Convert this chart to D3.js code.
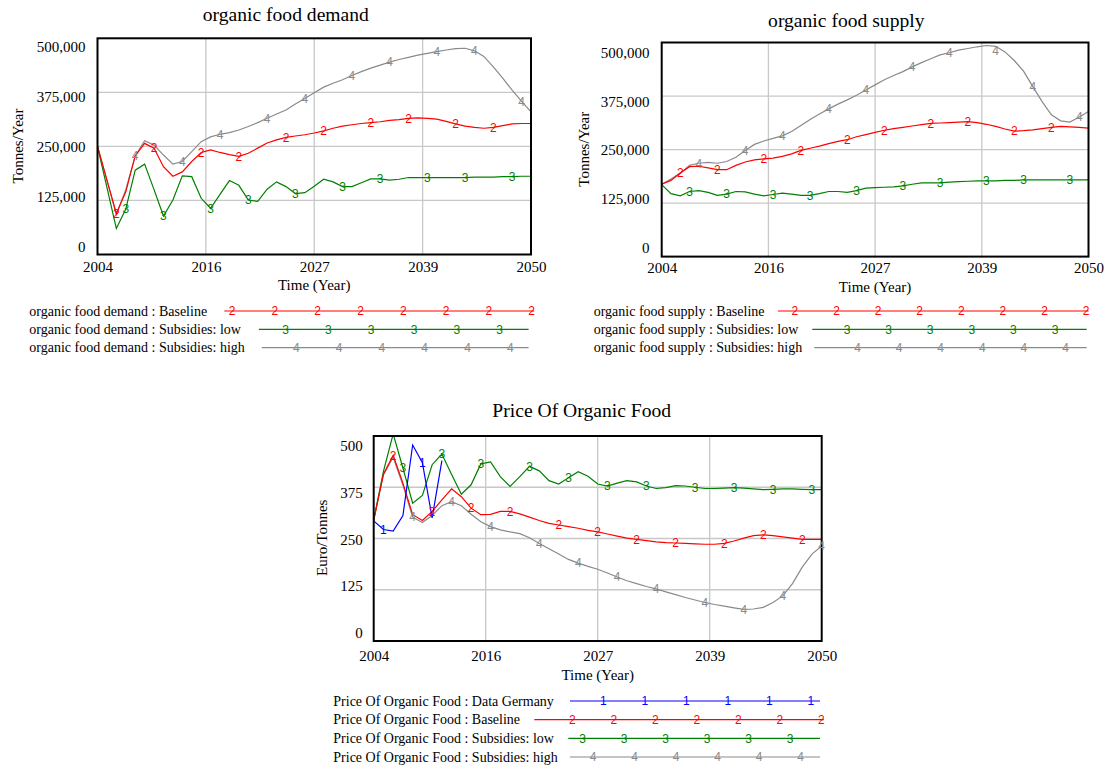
<!DOCTYPE html>
<html><head><meta charset="utf-8">
<script src="https://cdn.jsdelivr.net/npm/d3@7"></script>
<style>body{margin:0;background:#fff} svg{display:block}</style>
</head><body><svg id="c" width="1104" height="767"></svg>
<script>
// ---------- categories ----------
const years = [2004,2005,2006,2007,2008,2009,2010,2011,2012,2013,2014,2015,2016,2017,2018,2019,2020,
  2021,2022,2023,2024,2025,2026,2027,2028,2029,2030,2031,2032,2033,2034,2035,2036,2037,2038,2039,2040,
  2041,2042,2043,2044,2045,2046,2047,2048,2049,2050];
const dataGermanyYears = [2004,2005,2006,2007,2008,2009,2010,2011];

// ---------- series values ----------
const demandBaseline = [250000,172000,95000,145000,228000,257000,246000,203000,181000,191000,215000,236000,
  242000,236000,231000,227000,234000,246000,258000,265000,271000,274000,277000,281000,286000,292000,297000,
  300000,303000,305000,307000,310000,312000,315000,316000,315000,313000,308000,302000,297000,294000,292000,
  294000,298000,302000,303000,303000];
const demandLow = [250000,155000,60000,105000,195000,209000,150000,89000,126000,182000,180000,130000,107000,
  139000,171000,160000,126000,123000,151000,168000,157000,141000,143000,158000,174000,168000,157000,157000,
  166000,175000,175000,172000,174000,178000,178000,178000,178000,178000,178000,178000,179000,179000,179000,
  180000,180000,181000,181000];
const demandHigh = [250000,172000,92000,150000,228000,263000,253000,230000,209000,215000,238000,261000,272000,
  278000,282000,288000,296000,305000,315000,325000,334000,348000,361000,374000,387000,396000,404000,414000,
  423000,431000,438000,445000,451000,456000,461000,465000,469000,473000,476000,477000,471000,458000,434000,
  408000,380000,354000,330000];

const supplyBaseline = [169000,178000,195000,210000,211000,207000,203000,203000,213000,221000,226000,228000,
  230000,234000,240000,248000,253000,258000,264000,269000,273000,280000,285000,290000,295000,299000,302000,
  305000,308000,311000,312000,313000,314000,315000,313000,309000,304000,298000,293000,294000,296000,299000,
  302000,304000,303000,302000,300000];
const supplyLow = [168000,147000,142000,152000,154000,150000,143000,146000,152000,151000,146000,142000,145000,
  148000,146000,143000,143000,147000,152000,152000,150000,154000,160000,161000,162000,163000,165000,169000,
  172000,172000,172000,174000,175000,176000,177000,177000,177000,178000,178000,179000,179000,179000,179000,
  179000,179000,179000,179000];
const supplyHigh = [169000,181000,195000,213000,218000,220000,218000,222000,232000,248000,262000,270000,276000,
  282000,292000,306000,320000,333000,345000,356000,366000,377000,389000,401000,413000,423000,432000,443000,
  453000,462000,471000,476000,482000,486000,490000,493000,491000,478000,458000,433000,397000,362000,331000,
  317000,314000,326000,339000];

const priceDataGermany = [293,272,268,306,478,435,300,440];
const priceBaseline = [295,407,453,385,308,294,316,344,371,352,324,308,309,316,316,310,302,294,287,283,279,
  275,270,266,261,256,251,248,245,242,240,239,238,237,236,236,238,244,251,257,259,257,254,251,248,248,248];
const priceLow = [295,414,505,422,336,355,430,456,406,358,381,432,437,401,377,401,426,415,391,383,398,413,402,
  383,378,385,391,388,378,372,374,379,378,375,372,372,373,374,373,371,369,370,371,371,370,369,369];
const priceHigh = [295,405,448,380,302,289,306,330,340,330,309,291,279,271,266,262,252,238,225,212,199,190,182,
  175,166,156,147,140,133,127,120,113,106,100,94,89,85,81,77,78,82,94,110,140,180,212,232];

// ---------- tick labels ----------
const xTickLabels = ["2004","2016","2027","2039","2050"];
const yTickValuesTonnes = [0,125000,250000,375000,500000];
const yTickLabelsTonnes = ["0","125,000","250,000","375,000","500,000"];
const yTickValuesPrice = [0,125,250,375,500];
const yTickLabelsPrice = ["0","125","250","375","500"];

// ---------- styling / layout ----------
const colors = {1:"#0000ff", 2:"#ff0000", 3:"#008000", 4:"#8a8a8a"};
const SERIF = "'Liberation Serif','Times New Roman',serif";
const SANS = "'Liberation Sans',Arial,sans-serif";
const svg = d3.select("#c");
svg.append("rect").attr("width",1104).attr("height",767).attr("fill","#fff");

const charts = [
  { id:"d", title:"organic food demand", titleX:285.8, titleY:21, yTitle:"Tonnes/Year",
    L:97.5, R:531, T:38.3, B:254.5, yMax:500000, labTop:46.7, labBot:246.3, labRight:85.4,
    xLabY:266.7, xTitleY:290, yTitleX:23.4, yTitleY:146,
    yTicks:yTickValuesTonnes, yLabels:yTickLabelsTonnes,
    series:[{n:2, name:"organic food demand : Baseline", x:years, v:demandBaseline},
            {n:3, name:"organic food demand : Subsidies: low", x:years, v:demandLow},
            {n:4, name:"organic food demand : Subsidies: high", x:years, v:demandHigh}],
    mStart:{2:2006.0, 3:2007.3, 4:2008.55}, mInt:4.54,
    leg:{textX:29.3, rows:[311,329.3,347.7], starts:[224.3,258.9,261.8], end:528.6, phase2:232.1, step:10.7, spacing:42.8}
  },
  { id:"s", title:"organic food supply", titleX:846.3, titleY:26.8, yTitle:"Tonnes/Year",
    L:661.7, R:1088.5, T:42.5, B:256.6, yMax:500000, labTop:52.3, labBot:247.3, labRight:649.5,
    xLabY:268.3, xTitleY:291.5, yTitleX:588.8, yTitleY:149.2,
    yTicks:yTickValuesTonnes, yLabels:yTickLabelsTonnes,
    series:[{n:2, name:"organic food supply : Baseline", x:years, v:supplyBaseline},
            {n:3, name:"organic food supply : Subsidies: low", x:years, v:supplyLow},
            {n:4, name:"organic food supply : Subsidies: high", x:years, v:supplyHigh}],
    mStart:{2:2006.0, 3:2007.3, 4:2008.55}, mInt:4.54,
    leg:{textX:593.7, rows:[311,329.3,347.7], starts:[777.9,812.3,814.3], end:1086.7, phase2:794.9, step:10.5, spacing:41.6}
  },
  { id:"p", title:"Price Of Organic Food", titleX:581.7, titleY:417, yTitle:"Euro/Tonnes",
    L:373.7, R:821.7, T:436, B:641, yMax:500, labTop:446, labBot:632.7, labRight:362.7,
    xLabY:655.7, xTitleY:679.5, yTitleX:326.9, yTitleY:537.8,
    yTicks:yTickValuesPrice, yLabels:yTickLabelsPrice,
    series:[{n:1, name:"Price Of Organic Food : Data Germany", x:dataGermanyYears, v:priceDataGermany},
            {n:2, name:"Price Of Organic Food : Baseline", x:years, v:priceBaseline},
            {n:3, name:"Price Of Organic Food : Subsidies: low", x:years, v:priceLow},
            {n:4, name:"Price Of Organic Food : Subsidies: high", x:years, v:priceHigh}],
    mStart:{1:2005.1, 2:2006.3, 3:2007.5, 4:2008.5}, mInt:4.22,
    leg:{textX:333.3, rows:[701,719.7,738.3,757], starts:[570,534.3,568.3,570], end:820, phase2:572.3, step:10.4, spacing:41.5}
  }
];

function drawChart(c){
  const g = svg.append("g");
  const x = d3.scaleLinear().domain([2004,2050]).range([c.L,c.R]);
  const y = d3.scaleLinear().domain([0,c.yMax]).range([c.B,c.T]);
  const yLab = d3.scaleLinear().domain([0,c.yMax]).range([c.labBot,c.labTop]);
  const xTicks = d3.range(5).map(i => 2004 + i*(2050-2004)/4);

  // grid
  g.append("g").selectAll("line").data(xTicks.slice(1,-1)).join("line")
    .attr("x1",d=>x(d)).attr("x2",d=>x(d)).attr("y1",c.T).attr("y2",c.B)
    .attr("stroke","#c8c8c8").attr("stroke-width",1.3);
  g.append("g").selectAll("line").data(c.yTicks.slice(1,-1)).join("line")
    .attr("x1",c.L).attr("x2",c.R).attr("y1",d=>y(d)).attr("y2",d=>y(d))
    .attr("stroke","#c8c8c8").attr("stroke-width",1.3);

  // clip (lines only)
  svg.append("clipPath").attr("id","clip-"+c.id).append("rect")
    .attr("x",c.L).attr("y",c.T).attr("width",c.R-c.L).attr("height",c.B-c.T);
  const pg = g.append("g").attr("clip-path","url(#clip-"+c.id+")");
  const mg = g.append("g");

  const line = d3.line().x(d=>x(d[0])).y(d=>y(d[1]));
  const order = c.series.slice().sort((a,b)=>b.n-a.n);
  order.forEach(s=>{
    const pts = s.x.map((yr,i)=>[yr,s.v[i]]);
    pg.append("path").datum(pts).attr("d",line).attr("fill","none")
      .attr("stroke",colors[s.n]).attr("stroke-width",1.2);
  });

  // border
  g.append("rect").attr("x",c.L).attr("y",c.T).attr("width",c.R-c.L).attr("height",c.B-c.T)
    .attr("fill","none").attr("stroke","#000").attr("stroke-width",2);

  // markers (on top, unclipped)
  g.raise && mg.raise();
  order.forEach(s=>{
    const first = s.x[0], last = s.x[s.x.length-1];
    const mYears = [];
    for(let k=0; k<30; k++){
      const yr = Math.floor(c.mStart[s.n] + k*c.mInt + 1e-6);
      if(yr>last) break;
      if(yr>=first) mYears.push(yr);
    }
    mg.append("g").selectAll("text").data(mYears).join("text")
      .attr("x",d=>x(d)).attr("y",d=>Math.max(c.T+8, y(s.v[s.x.indexOf(d)]))+4.3)
      .attr("text-anchor","middle").attr("font-family",SANS).attr("font-size",12)
      .attr("fill",colors[s.n]).text(s.n);
  });

  // axes
  const xa = g.append("g").attr("transform",`translate(0,${c.xLabY})`)
    .call(d3.axisBottom(x).tickValues(xTicks).tickFormat((d,i)=>xTickLabels[i]).tickSize(0).tickPadding(0));
  xa.select(".domain").remove();
  xa.selectAll("text").attr("y",0).attr("dy","0.33em").attr("font-family",SERIF).attr("font-size",15).attr("fill","#000");
  xa.attr("font-family",SERIF).attr("font-size",15);

  const ya = g.append("g").attr("transform",`translate(${c.labRight},0)`)
    .call(d3.axisLeft(yLab).tickValues(c.yTicks).tickFormat((d,i)=>c.yLabels[i]).tickSize(0).tickPadding(0));
  ya.select(".domain").remove();
  ya.selectAll("text").attr("x",0).attr("dy","0.33em").attr("font-family",SERIF).attr("font-size",15).attr("fill","#000");
  ya.attr("font-family",SERIF).attr("font-size",15);

  // titles
  g.append("text").attr("x",c.titleX).attr("y",c.titleY).attr("text-anchor","middle")
    .attr("font-family",SERIF).attr("font-size",19.6).attr("fill","#000").text(c.title);
  g.append("text").attr("x",(c.L+c.R)/2).attr("y",c.xTitleY).attr("text-anchor","middle")
    .attr("font-family",SERIF).attr("font-size",15).attr("fill","#000").text("Time (Year)");
  g.append("text").attr("transform",`translate(${c.yTitleX},${c.yTitleY}) rotate(-90)`)
    .attr("text-anchor","middle").attr("font-family",SERIF).attr("font-size",15).attr("fill","#000").text(c.yTitle);

  // legend
  const lg = g.append("g");
  const L = c.leg;
  c.series.forEach((s,i)=>{
    const ry = L.rows[i];
    lg.append("text").attr("x",L.textX).attr("y",ry+4.7).attr("font-family",SERIF)
      .attr("font-size",14).attr("fill","#000").text(s.name);
    const x0 = L.starts[i];
    let m = L.phase2 + (s.n-2)*L.step;
    while(m - L.spacing >= x0+5) m -= L.spacing;
    while(m < x0+5) m += L.spacing;
    const ms = [];
    for(; m <= L.end+4; m += L.spacing) ms.push(m);
    const x1 = Math.max(L.end, ms.length ? ms[ms.length-1]+2.5 : L.end);
    lg.append("line").attr("x1",x0).attr("x2",x1).attr("y1",ry).attr("y2",ry)
      .attr("stroke",colors[s.n]).attr("stroke-width",1.2);
    lg.append("g").selectAll("text").data(ms).join("text")
      .attr("x",d=>d).attr("y",ry+4.3).attr("text-anchor","middle")
      .attr("font-family",SANS).attr("font-size",12).attr("fill",colors[s.n]).text(s.n);
  });
}
charts.forEach(drawChart);
</script>
</body></html>
